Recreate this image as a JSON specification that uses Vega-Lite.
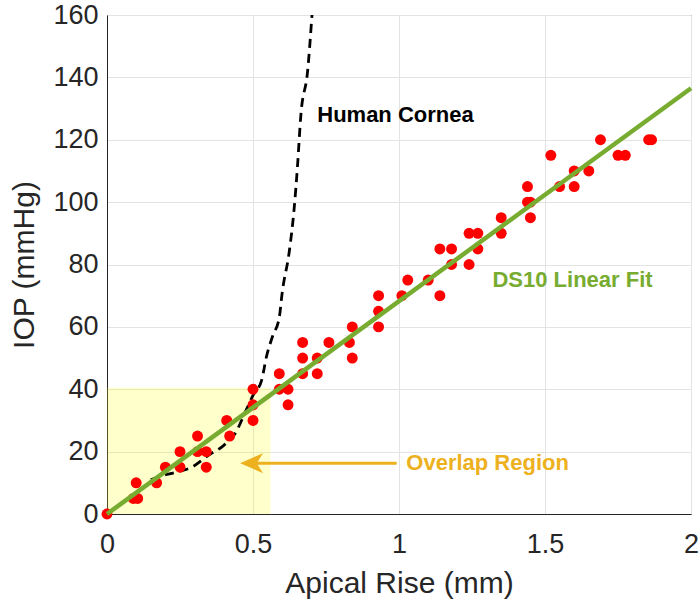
{
  "$schema": "https://vega.github.io/schema/vega-lite/v6.json",
  "width": 584,
  "height": 499,
  "autosize": {"type": "none"},
  "padding": {"left": 107, "top": 15, "right": 8, "bottom": 90},
  "background": "white",
  "config": {
    "view": {"stroke": "#262626", "strokeWidth": 1},
    "axis": {
      "grid": true,
      "gridColor": "#e3e3e3",
      "gridWidth": 1,
      "domainColor": "#262626",
      "domainWidth": 1,
      "ticks": false,
      "labelFlush": false,
      "labelFont": "Liberation Sans",
      "labelFontSize": 27,
      "labelColor": "#262626",
      "titleFont": "Liberation Sans",
      "titleFontSize": 30,
      "titleFontWeight": "normal",
      "titleColor": "#262626"
    }
  },
  "datasets": {
    "region": [{"x0": 0, "x1": 0.56, "y0": 0, "y1": 40.5}],
    "cornea": [
      {"x": 0.15, "y": 11}, {"x": 0.18, "y": 12}, {"x": 0.24, "y": 13.5}, {"x": 0.29, "y": 15},
      {"x": 0.35, "y": 19}, {"x": 0.40, "y": 22}, {"x": 0.44, "y": 26}, {"x": 0.475, "y": 33},
      {"x": 0.50, "y": 38}, {"x": 0.53, "y": 43}, {"x": 0.545, "y": 50}, {"x": 0.567, "y": 57},
      {"x": 0.59, "y": 63}, {"x": 0.60, "y": 71}, {"x": 0.624, "y": 84}, {"x": 0.641, "y": 98},
      {"x": 0.652, "y": 111}, {"x": 0.664, "y": 128}, {"x": 0.687, "y": 142}, {"x": 0.702, "y": 160}
    ],
    "fit": [{"x": 0, "y": 0}, {"x": 2, "y": 136.5}],
    "points": [
      {"x": 0, "y": 0}, {"x": 0.1, "y": 10}, {"x": 0.09, "y": 5}, {"x": 0.105, "y": 5},
      {"x": 0.17, "y": 10}, {"x": 0.2, "y": 15}, {"x": 0.25, "y": 20}, {"x": 0.25, "y": 15},
      {"x": 0.31, "y": 25}, {"x": 0.31, "y": 20}, {"x": 0.34, "y": 20}, {"x": 0.34, "y": 15},
      {"x": 0.41, "y": 30}, {"x": 0.42, "y": 25}, {"x": 0.5, "y": 40}, {"x": 0.5, "y": 35},
      {"x": 0.5, "y": 30}, {"x": 0.59, "y": 45}, {"x": 0.59, "y": 40}, {"x": 0.62, "y": 40},
      {"x": 0.62, "y": 35}, {"x": 0.67, "y": 55}, {"x": 0.67, "y": 50}, {"x": 0.67, "y": 45},
      {"x": 0.72, "y": 50}, {"x": 0.72, "y": 45}, {"x": 0.76, "y": 55}, {"x": 0.83, "y": 55},
      {"x": 0.84, "y": 60}, {"x": 0.84, "y": 50}, {"x": 0.93, "y": 70}, {"x": 0.93, "y": 65},
      {"x": 0.93, "y": 60}, {"x": 1.01, "y": 70}, {"x": 1.03, "y": 75}, {"x": 1.10, "y": 75},
      {"x": 1.14, "y": 70}, {"x": 1.14, "y": 85}, {"x": 1.18, "y": 85}, {"x": 1.18, "y": 80},
      {"x": 1.24, "y": 80}, {"x": 1.24, "y": 90}, {"x": 1.27, "y": 90}, {"x": 1.27, "y": 85},
      {"x": 1.35, "y": 95}, {"x": 1.35, "y": 90}, {"x": 1.44, "y": 105}, {"x": 1.44, "y": 100},
      {"x": 1.45, "y": 100}, {"x": 1.45, "y": 95}, {"x": 1.52, "y": 115}, {"x": 1.55, "y": 105},
      {"x": 1.60, "y": 110}, {"x": 1.60, "y": 105}, {"x": 1.65, "y": 110}, {"x": 1.69, "y": 120},
      {"x": 1.75, "y": 115}, {"x": 1.775, "y": 115}, {"x": 1.855, "y": 120}, {"x": 1.865, "y": 120}
    ],
    "arrow": [{"x0": 0.47, "x1": 0.992, "y": 16.3, "hx": 0.495}],
    "labels": [
      {"x": 0.72, "y": 128, "text": "Human Cornea", "c": "black"},
      {"x": 1.32, "y": 75, "text": "DS10 Linear Fit", "c": "green"},
      {"x": 1.025, "y": 16.3, "text": "Overlap Region", "c": "gold"}
    ]
  },
  "layer": [
    {
      "data": {"name": "region"},
      "mark": {"type": "rect", "color": "#ffff00", "opacity": 0.2},
      "encoding": {
        "x": {"field": "x0", "type": "quantitative", "scale": {"domain": [0, 2], "nice": false},
              "axis": {"values": [0, 0.5, 1, 1.5, 2], "format": "~g", "title": "Apical Rise (mm)", "labelPadding": 17, "titlePadding": 11}},
        "x2": {"field": "x1"},
        "y": {"field": "y0", "type": "quantitative", "scale": {"domain": [0, 160], "nice": false},
              "axis": {"values": [0, 20, 40, 60, 80, 100, 120, 140, 160], "title": "IOP (mmHg)", "labelPadding": 9, "titlePadding": 13}},
        "y2": {"field": "y1"}
      }
    },
    {
      "data": {"name": "cornea"},
      "mark": {"type": "line", "color": "black", "strokeWidth": 2.8, "strokeDash": [9, 6], "interpolate": "monotone"},
      "encoding": {
        "x": {"field": "x", "type": "quantitative"},
        "y": {"field": "y", "type": "quantitative"}
      }
    },
    {
      "data": {"name": "points"},
      "mark": {"type": "point", "shape": "circle", "filled": true, "color": "#ff0000", "size": 120, "opacity": 1},
      "encoding": {
        "x": {"field": "x", "type": "quantitative"},
        "y": {"field": "y", "type": "quantitative"}
      }
    },
    {
      "data": {"name": "fit"},
      "mark": {"type": "line", "color": "#77ac30", "strokeWidth": 4.5},
      "encoding": {
        "x": {"field": "x", "type": "quantitative"},
        "y": {"field": "y", "type": "quantitative"}
      }
    },
    {
      "data": {"name": "arrow"},
      "mark": {"type": "rule", "color": "#edb120", "strokeWidth": 3},
      "encoding": {
        "x": {"field": "x0", "type": "quantitative"},
        "x2": {"field": "x1"},
        "y": {"field": "y", "type": "quantitative"}
      }
    },
    {
      "data": {"name": "arrow"},
      "mark": {"type": "point", "shape": "M-1,0L1,-0.87L0.45,0L1,0.87Z", "filled": true, "color": "#edb120", "size": 529, "opacity": 1},
      "encoding": {
        "x": {"field": "hx", "type": "quantitative"},
        "y": {"field": "y", "type": "quantitative"}
      }
    },
    {
      "data": {"name": "labels"},
      "mark": {"type": "text", "align": "left", "baseline": "middle", "font": "Liberation Sans", "fontSize": 22, "fontWeight": "bold"},
      "encoding": {
        "x": {"field": "x", "type": "quantitative"},
        "y": {"field": "y", "type": "quantitative"},
        "text": {"field": "text"},
        "color": {"field": "c", "type": "nominal", "scale": {"domain": ["black", "green", "gold"], "range": ["#000000", "#77ac30", "#edb120"]}, "legend": null}
      }
    }
  ]
}
